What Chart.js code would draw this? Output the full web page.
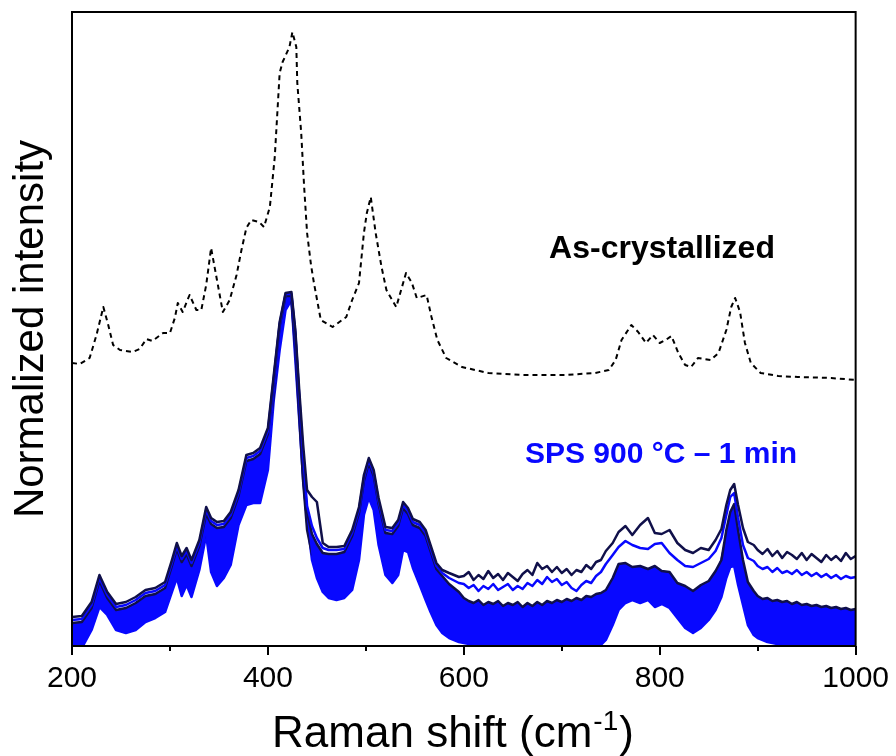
<!DOCTYPE html>
<html>
<head>
<meta charset="utf-8">
<script src="https://cdn.jsdelivr.net/npm/chart.js@4.4.0/dist/chart.umd.min.js"></script>
<style>
  html, body { margin: 0; padding: 0; background: #fff; }
  #wrap { width: 896px; height: 756px; }
</style>
</head>
<body>
<div id="wrap"><canvas id="ramanChart"></canvas></div>
<script>
// Raman shift axis (cm-1) shared by the SPS spectra
const ramanShift = [200,210,220,228,236,245,255,265,275,285,
  295,302,307,312,317,322,330,337,342,348,
  355,362,370,378,385,392,400,406,412,418,
  424,428,432,436,440,445,450,456,462,470,
  478,486,493,498,503,508,513,520,527,533,
  538,543,548,555,561,566,572,578,585,595,
  600,605,610,615,620,625,630,635,640,645,
  650,655,660,665,670,675,680,685,690,695,
  700,705,710,715,720,725,730,735,740,745,
  752,758,765,772,780,788,795,802,810,818,826,834,842,850,857,863,868,872,876,880,885,890,896,
  900,905,910,915,920,925,930,935,940,945,950,955,960,965,970,975,980,985,990,995,1000];

// SPS 900 °C - 1 min, several spectra (arbitrary normalized units)
const spsNavyTop = [29,30,44,71,54,42,44,49,56,58,
  64,86,103,90,98,86,106,139,128,124,
  125,134,156,191,193,198,218,271,324,353,
  354,316,256,201,156,149,144,103,99,99,
  100,116,139,171,188,176,148,119,118,126,
  144,138,127,124,116,101,83,76,73,69,
  70,74,66,71,67,75,68,72,66,73,
  69,65,72,76,71,83,77,80,74,79,
  73,77,71,76,74,81,77,84,86,95,
  103,114,120,111,121,128,113,112,116,103,96,93,98,96,106,117,141,156,162,141,118,104,101,
  96,92,97,90,95,88,94,91,87,93,86,92,88,84,91,86,90,85,93,87,90];
const spsBlueTop = [26,27,41,68,51,39,41,46,53,55,
  61,83,100,87,95,83,103,136,125,121,
  122,131,153,188,190,195,215,268,322,352,
  352,313,250,190,140,120,108,98,96,96,
  97,113,136,168,186,173,145,116,115,123,
  141,135,124,121,113,98,80,73,68,63,
  62,58,61,55,60,57,62,56,59,62,
  56,60,57,63,60,66,62,69,64,67,
  61,64,58,55,61,65,63,70,74,82,
  91,99,105,101,98,97,102,103,93,86,80,79,83,87,95,108,131,149,153,128,101,88,85,
  80,77,79,74,78,73,75,72,76,71,74,70,73,69,72,68,71,67,70,68,69];
const spsNavyMid = [23,24,38,65,48,36,38,43,50,52,
  58,80,97,84,92,80,100,132,122,118,
  119,128,150,185,187,192,212,265,320,350,
  350,310,245,182,134,112,102,93,92,92,
  94,110,133,165,183,170,142,113,112,120,
  138,132,121,118,110,95,77,70,62,54,
  48,45,43,46,41,44,42,45,40,43,
  41,44,39,43,40,44,41,45,43,46,
  44,47,45,48,46,50,49,52,53,56,
  68,82,83,79,80,77,80,75,74,63,60,55,61,65,75,86,116,134,142,116,86,64,55,
  50,47,48,45,46,44,45,42,44,41,42,40,41,39,40,38,39,37,38,36,37];
const spsBlueMid = [16,16,30,58,40,28,30,35,42,44,
  50,72,90,76,84,72,92,124,112,108,
  109,118,140,176,180,186,206,258,316,348,
  348,302,238,172,124,100,92,82,80,80,
  82,98,122,158,178,162,132,102,100,108,
  126,120,110,106,98,82,62,50,46,40,
  36,34,33,32,31,30,30,29,29,28,
  28,28,28,29,29,29,29,29,30,30,
  30,31,31,32,32,33,34,35,37,41,
  56,68,71,72,74,73,70,68,63,56,51,49,52,60,66,86,109,128,136,111,81,56,46,
  42,39,37,36,35,34,34,33,33,33,33,32,32,31,31,30,30,30,29,29,29];
const spsNavyLow = [10,10,24,52,34,22,24,29,36,38,
  44,66,84,70,78,66,86,118,106,102,
  103,112,134,170,175,182,202,252,312,346,
  346,296,230,164,116,92,84,74,72,72,
  74,90,114,150,172,156,126,96,94,102,
  120,114,104,100,92,76,56,44,40,34,
  28,24,22,23,20,22,19,21,18,20,
  17,19,18,21,18,20,19,21,20,22,
  21,23,22,23,22,24,24,26,28,32,
  46,58,61,62,64,63,60,58,53,46,41,39,42,50,56,76,99,118,126,101,71,46,36,
  32,29,28,27,26,25,25,24,24,23,23,22,22,22,21,21,20,20,20,19,19];
const spsBlueLow = [-4,-2,16,39,31,16,13,16,24,28,
  34,54,68,50,61,49,76,111,74,60,
  68,81,121,141,143,143,176,246,296,336,
  346,286,226,166,126,86,68,54,48,46,
  48,56,86,131,148,136,101,71,63,71,
  96,94,78,61,46,34,21,13,8,4,
  3,2,1,1,-2,-2,-2,-2,-2,-2,
  -2,-2,-2,-2,-2,-2,-2,-2,-2,-2,
  -2,-2,-2,-2,-2,-2,-2,-2,1,6,
  21,36,43,46,43,46,39,42,38,28,18,13,18,26,36,49,68,79,80,61,41,21,11,
  8,6,4,3,2,1,-1,-1,-1,-1,-1,-1,-1,-1,-1,-1,-1,-1,-1,-1,-1];

// As-crystallized spectrum (dashed)
const asShift = [200,208,218,225,232,237,242,249,262,269,
  276,282,293,300,305,308,313,320,327,332,
  337,342,348,354,361,368,373,378,383,391,
  396,402,407,412,415,422,425,429,430,434,
  437,440,444,447,454,466,480,486,493,498,
  501,505,510,516,521,531,536,541,547,552,
  562,567,573,582,598,625,659,704,734,748,
  755,761,771,778,786,793,800,806,812,819,
  826,832,839,852,860,868,873,877,882,887,
  893,903,921,941,975,1000];
const asIntensity = [283,282,288,311,339,321,301,296,294,297,
  307,305,313,313,328,343,334,351,336,336,
  361,398,366,334,346,371,396,418,426,424,
  419,439,489,573,584,599,614,599,563,513,
  459,413,381,363,326,319,329,346,363,413,
  433,449,413,379,356,339,356,373,363,348,
  351,329,306,288,279,273,271,271,273,276,
  286,306,321,314,303,311,303,306,310,293,
  281,279,288,286,293,316,339,348,334,303,
  283,273,270,269,268,266];

const majorTicks = [200, 400, 600, 800, 1000];
const minorTicks = [300, 500, 700, 900];

const navy = '#10104a';
const blue = 'rgb(8,8,255)';
const fontFam = '"Liberation Sans", Arial, sans-serif';

const pts = (xs, ys) => xs.map((x, i) => ({ x: x, y: ys[i] }));

const sps = (ys, color, extra) => Object.assign({
  data: pts(ramanShift, ys),
  borderColor: color,
  borderWidth: 2.5,
  pointRadius: 0,
  clip: 0
}, extra || {});

const framePlugin = {
  id: 'frame',
  afterDraw(chart) {
    const { ctx, chartArea: a, scales: { x } } = chart;
    ctx.save();
    ctx.strokeStyle = '#000';
    ctx.lineWidth = 2;
    ctx.strokeRect(a.left, a.top, a.right - a.left, a.bottom - a.top);
    ctx.beginPath();
    majorTicks.forEach(v => {
      const px = Math.round(x.getPixelForValue(v));
      ctx.moveTo(px, a.bottom); ctx.lineTo(px, a.bottom + 9);
    });
    minorTicks.forEach(v => {
      const px = Math.round(x.getPixelForValue(v));
      ctx.moveTo(px, a.bottom); ctx.lineTo(px, a.bottom + 5);
    });
    ctx.stroke();

    // axis titles
    ctx.fillStyle = '#000';
    ctx.textBaseline = 'alphabetic';
    ctx.font = '44px ' + fontFam;
    const t1 = 'Raman shift (cm', t2 = ')';
    const supFont = '28px ' + fontFam;
    const w1 = ctx.measureText(t1).width, w3 = ctx.measureText(t2).width;
    ctx.font = supFont;
    const w2 = ctx.measureText('-1').width;
    let sx = 452 - (w1 + w2 + w3) / 2;
    ctx.font = '44px ' + fontFam;
    ctx.textAlign = 'left';
    ctx.fillText(t1, sx, 747);
    ctx.font = supFont;
    ctx.fillText('-1', sx + w1 + 1, 730);
    ctx.font = '44px ' + fontFam;
    ctx.fillText(t2, sx + w1 + w2 + 2, 747);

    ctx.save();
    ctx.translate(43, 329);
    ctx.rotate(-Math.PI / 2);
    ctx.textAlign = 'center';
    ctx.font = '42px ' + fontFam;
    ctx.fillText('Normalized intensity', 0, 0);
    ctx.restore();

    // labels inside the plot
    ctx.textAlign = 'center';
    ctx.font = 'bold 32px ' + fontFam;
    ctx.fillStyle = '#000';
    ctx.fillText('As-crystallized', 662, 258);
    ctx.font = 'bold 30px ' + fontFam;
    ctx.fillStyle = blue;
    ctx.fillText('SPS 900 °C – 1 min', 661, 463);
    ctx.restore();
  }
};

new Chart(document.getElementById('ramanChart'), {
  type: 'line',
  data: {
    datasets: [
      sps(spsNavyTop, navy),
      sps(spsBlueTop, blue),
      sps(spsNavyMid, navy, { fill: 5, backgroundColor: blue }),
      sps(spsNavyLow, navy),
      sps(spsBlueMid, blue),
      sps(spsBlueLow, blue),
      {
        data: pts(asShift, asIntensity),
        borderColor: '#000',
        borderWidth: 2,
        borderDash: [5, 4],
        pointRadius: 0,
        clip: 0
      }
    ]
  },
  options: {
    responsive: true,
    maintainAspectRatio: false,
    animation: false,
    layout: { padding: { left: 72, right: 38, top: 12, bottom: 0 } },
    plugins: { legend: { display: false }, tooltip: { enabled: false } },
    elements: { line: { tension: 0, borderJoinStyle: 'round' } },
    scales: {
      x: {
        type: 'linear',
        min: 200,
        max: 1000,
        grid: { display: false },
        border: { display: false },
        ticks: {
          stepSize: 200,
          color: '#000',
          maxRotation: 0,
          padding: 7,
          font: { size: 30, family: fontFam },
          callback: v => String(v)
        },
        afterFit(scale) { scale.height = 110; }
      },
      y: { display: false, min: 0, max: 634 }
    }
  },
  plugins: [framePlugin]
});
</script>
</body>
</html>
